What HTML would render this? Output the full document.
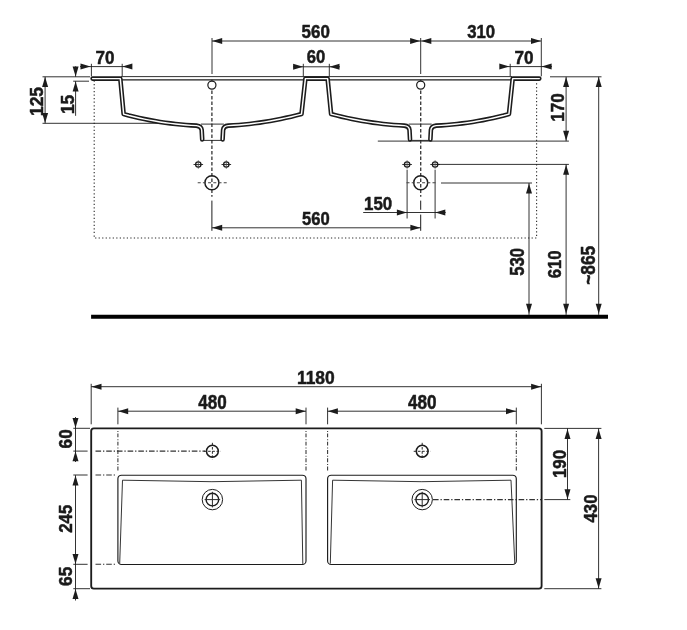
<!DOCTYPE html>
<html>
<head>
<meta charset="utf-8">
<title>Double washbasin dimension drawing</title>
<style>
html,body{margin:0;padding:0;background:#ffffff;}
body{width:687px;height:630px;overflow:hidden;font-family:"Liberation Sans",sans-serif;}
svg{display:block;opacity:0.999;will-change:transform;}
svg text{font-family:"Liberation Sans",sans-serif;font-weight:bold;fill:#1a1a1a;stroke:#1a1a1a;stroke-width:0.5px;stroke-linejoin:round;}
</style>
</head>
<body>
<svg width="687" height="630" viewBox="0 0 687 630">
<rect x="0" y="0" width="687" height="630" fill="#ffffff"/>
<path d="M94.2 80.5 V238 H536.6 V80.5" fill="none" stroke="#2a2a2a" stroke-width="1.1" stroke-dasharray="1.25 2.27"/>
<line x1="42.5" y1="76.8" x2="90" y2="76.8" stroke="#1c1c1c" stroke-width="0.9"/>
<line x1="42.5" y1="123.3" x2="160" y2="123.3" stroke="#1c1c1c" stroke-width="0.9"/>
<line x1="73.2" y1="81.2" x2="89" y2="81.2" stroke="#1c1c1c" stroke-width="0.9"/>
<line x1="121" y1="76.6" x2="512" y2="76.6" stroke="#1c1c1c" stroke-width="0.9"/>
<line x1="122" y1="79.9" x2="304" y2="79.9" stroke="#1c1c1c" stroke-width="1.1"/>
<line x1="329" y1="79.9" x2="511" y2="79.9" stroke="#1c1c1c" stroke-width="1.1"/>
<line x1="212" y1="41" x2="541" y2="41" stroke="#1c1c1c" stroke-width="0.9"/>
<line x1="212" y1="38" x2="212" y2="74" stroke="#1c1c1c" stroke-width="0.9"/>
<line x1="420.7" y1="38" x2="420.7" y2="74" stroke="#1c1c1c" stroke-width="0.9"/>
<line x1="541.3" y1="38" x2="541.3" y2="76.3" stroke="#1c1c1c" stroke-width="0.9"/>
<polygon points="212.2,41 222.2,38 222.2,44" fill="#1c1c1c"/>
<polygon points="420.1,41 410.1,38 410.1,44" fill="#1c1c1c"/>
<polygon points="421.3,41 431.3,38 431.3,44" fill="#1c1c1c"/>
<polygon points="541,41 531,38 531,44" fill="#1c1c1c"/>
<text transform="translate(301.62 37.87) scale(0.9392 1)" font-size="18.08">560</text>
<text transform="translate(467.17 37.87) scale(0.9242 1)" font-size="18.08">310</text>
<line x1="91.4" y1="63.8" x2="91.4" y2="76.3" stroke="#1c1c1c" stroke-width="0.9"/>
<line x1="122.2" y1="63.8" x2="122.2" y2="76.3" stroke="#1c1c1c" stroke-width="0.9"/>
<line x1="80" y1="66.6" x2="132" y2="66.6" stroke="#1c1c1c" stroke-width="0.9"/>
<polygon points="90.5,66.6 80.5,63.6 80.5,69.6" fill="#1c1c1c"/>
<polygon points="122.4,66.6 132.4,63.6 132.4,69.6" fill="#1c1c1c"/>
<text transform="translate(95.52 63.77) scale(0.9490 1)" font-size="17.94">70</text>
<line x1="303.3" y1="63.8" x2="303.3" y2="76.3" stroke="#1c1c1c" stroke-width="0.9"/>
<line x1="329.3" y1="63.8" x2="329.3" y2="76.3" stroke="#1c1c1c" stroke-width="0.9"/>
<line x1="293" y1="66.8" x2="340" y2="66.8" stroke="#1c1c1c" stroke-width="0.9"/>
<polygon points="303.1,66.8 293.1,63.8 293.1,69.8" fill="#1c1c1c"/>
<polygon points="329.5,66.8 339.5,63.8 339.5,69.8" fill="#1c1c1c"/>
<text transform="translate(306.73 63.37) scale(0.9347 1)" font-size="17.8">60</text>
<line x1="510.2" y1="63.8" x2="510.2" y2="76.3" stroke="#1c1c1c" stroke-width="0.9"/>
<line x1="500" y1="66.6" x2="552" y2="66.6" stroke="#1c1c1c" stroke-width="0.9"/>
<polygon points="509.3,66.6 499.3,63.6 499.3,69.6" fill="#1c1c1c"/>
<polygon points="541.6,66.6 551.6,63.6 551.6,69.6" fill="#1c1c1c"/>
<text transform="translate(514.61 63.77) scale(0.9544 1)" font-size="17.94">70</text>
<line x1="45.1" y1="76.8" x2="45.1" y2="123.3" stroke="#1c1c1c" stroke-width="0.9"/>
<polygon points="45.1,77 42.1,87 48.1,87" fill="#1c1c1c"/>
<polygon points="45.1,123.1 42.1,113.1 48.1,113.1" fill="#1c1c1c"/>
<text transform="translate(42.96 116.05) rotate(-90) scale(0.9145 1)" font-size="19.07">125</text>
<line x1="75.6" y1="66.3" x2="75.6" y2="76.8" stroke="#1c1c1c" stroke-width="0.9"/>
<line x1="75.6" y1="81.2" x2="75.6" y2="115.8" stroke="#1c1c1c" stroke-width="0.9"/>
<polygon points="75.6,76.6 72.6,66.6 78.6,66.6" fill="#1c1c1c"/>
<polygon points="75.6,81.6 72.6,91.6 78.6,91.6" fill="#1c1c1c"/>
<text transform="translate(73.77 114.04) rotate(-90) scale(0.9664 1)" font-size="17.94">15</text>
<line x1="550" y1="76.8" x2="601.5" y2="76.8" stroke="#1c1c1c" stroke-width="0.9"/>
<line x1="377.8" y1="141.1" x2="568.9" y2="141.1" stroke="#1c1c1c" stroke-width="0.9"/>
<line x1="436.6" y1="164.4" x2="568.9" y2="164.4" stroke="#1c1c1c" stroke-width="0.9"/>
<line x1="441" y1="183" x2="532" y2="183" stroke="#1c1c1c" stroke-width="0.9"/>
<line x1="566.1" y1="76.8" x2="566.1" y2="141.1" stroke="#1c1c1c" stroke-width="0.9"/>
<polygon points="566.1,77.1 563.1,87.1 569.1,87.1" fill="#1c1c1c"/>
<polygon points="566.1,140.7 563.1,130.7 569.1,130.7" fill="#1c1c1c"/>
<text transform="translate(564.16 121.63) rotate(-90) scale(0.9157 1)" font-size="18.64">170</text>
<line x1="566.1" y1="164.4" x2="566.1" y2="314.9" stroke="#1c1c1c" stroke-width="0.9"/>
<polygon points="566.1,164.8 563.1,174.8 569.1,174.8" fill="#1c1c1c"/>
<polygon points="566.1,313.8 563.1,303.8 569.1,303.8" fill="#1c1c1c"/>
<text transform="translate(561.46 278.37) rotate(-90) scale(0.8742 1)" font-size="19.21">610</text>
<line x1="529" y1="183" x2="529" y2="314.9" stroke="#1c1c1c" stroke-width="0.9"/>
<polygon points="529,183.4 526,193.4 532,193.4" fill="#1c1c1c"/>
<polygon points="529,313.8 526,303.8 532,303.8" fill="#1c1c1c"/>
<text transform="translate(524.46 275.87) rotate(-90) scale(0.8646 1)" font-size="19.35">530</text>
<line x1="598.7" y1="76.8" x2="598.7" y2="314.9" stroke="#1c1c1c" stroke-width="0.9"/>
<polygon points="598.7,77.1 595.7,87.1 601.7,87.1" fill="#1c1c1c"/>
<polygon points="598.7,313.8 595.7,303.8 601.7,303.8" fill="#1c1c1c"/>
<text transform="translate(594.85 284.84) rotate(-90) scale(0.8839 1)" font-size="19.63">~865</text>
<line x1="407.1" y1="169.7" x2="407.1" y2="218.5" stroke="#1c1c1c" stroke-width="0.9"/>
<line x1="435.1" y1="169.7" x2="435.1" y2="218.5" stroke="#1c1c1c" stroke-width="0.9"/>
<line x1="363.2" y1="212.5" x2="445.7" y2="212.5" stroke="#1c1c1c" stroke-width="0.9"/>
<polygon points="406.9,212.5 396.9,209.5 396.9,215.5" fill="#1c1c1c"/>
<polygon points="435.3,212.5 445.3,209.5 445.3,215.5" fill="#1c1c1c"/>
<text transform="translate(363.99 209.57) scale(0.9337 1)" font-size="18.08">150</text>
<line x1="211.9" y1="200.6" x2="211.9" y2="230.8" stroke="#1c1c1c" stroke-width="1"/>
<line x1="420.7" y1="200.6" x2="420.7" y2="209.8" stroke="#1c1c1c" stroke-width="1"/>
<line x1="420.7" y1="214.6" x2="420.7" y2="230.8" stroke="#1c1c1c" stroke-width="1"/>
<line x1="211.9" y1="227.8" x2="420.7" y2="227.8" stroke="#1c1c1c" stroke-width="0.9"/>
<polygon points="212.2,227.8 222.2,224.8 222.2,230.8" fill="#1c1c1c"/>
<polygon points="420.4,227.8 410.4,224.8 410.4,230.8" fill="#1c1c1c"/>
<text transform="translate(301.94 225.47) scale(0.9113 1)" font-size="18.22">560</text>
<line x1="91.1" y1="316.8" x2="608" y2="316.8" stroke="#000" stroke-width="4"/>
<line x1="211.9" y1="79.6" x2="211.9" y2="196.8" stroke="#3c3c3c" stroke-width="1.35" stroke-dasharray="3.4 2.1"/>
<circle cx="211.9" cy="85.1" r="4.05" fill="#fff" stroke="#1c1c1c" stroke-width="1.2"/>
<circle cx="211.9" cy="182.8" r="7" fill="none" stroke="#1c1c1c" stroke-width="1.45"/>
<line x1="197.7" y1="182.8" x2="226.7" y2="182.8" stroke="#444" stroke-width="1.1" stroke-dasharray="3 2.2"/>
<circle cx="198.3" cy="164.5" r="2.7" fill="none" stroke="#1c1c1c" stroke-width="1.25"/>
<line x1="193.5" y1="164.5" x2="203.1" y2="164.5" stroke="#1c1c1c" stroke-width="0.9"/>
<line x1="198.3" y1="160.3" x2="198.3" y2="168.7" stroke="#444" stroke-width="0.8"/>
<circle cx="226.3" cy="164.5" r="2.7" fill="none" stroke="#1c1c1c" stroke-width="1.25"/>
<line x1="221.5" y1="164.5" x2="231.1" y2="164.5" stroke="#1c1c1c" stroke-width="0.9"/>
<line x1="226.3" y1="160.3" x2="226.3" y2="168.7" stroke="#444" stroke-width="0.8"/>
<line x1="420.7" y1="79.6" x2="420.7" y2="196.8" stroke="#3c3c3c" stroke-width="1.35" stroke-dasharray="3.4 2.1"/>
<circle cx="420.7" cy="85.1" r="4.05" fill="#fff" stroke="#1c1c1c" stroke-width="1.2"/>
<circle cx="420.7" cy="182.8" r="7" fill="none" stroke="#1c1c1c" stroke-width="1.45"/>
<line x1="406.5" y1="182.8" x2="435.5" y2="182.8" stroke="#444" stroke-width="1.1" stroke-dasharray="3 2.2"/>
<circle cx="407.1" cy="164.5" r="2.7" fill="none" stroke="#1c1c1c" stroke-width="1.25"/>
<line x1="402.3" y1="164.5" x2="411.9" y2="164.5" stroke="#1c1c1c" stroke-width="0.9"/>
<line x1="407.1" y1="160.3" x2="407.1" y2="168.7" stroke="#444" stroke-width="0.8"/>
<circle cx="435.1" cy="164.5" r="2.7" fill="none" stroke="#1c1c1c" stroke-width="1.25"/>
<line x1="430.3" y1="164.5" x2="439.9" y2="164.5" stroke="#1c1c1c" stroke-width="0.9"/>
<line x1="435.1" y1="160.3" x2="435.1" y2="168.7" stroke="#444" stroke-width="0.8"/>
<path d="M92.6 78.6 L120.3 78.6 L123.65 114.1 L128.85 115.55 L134.04 116.82 L139.24 118 L144.44 119.1 L149.63 120.13 L154.83 121.07 L160.03 121.92 L165.22 122.7 L170.42 123.39 L175.61 124.01 L180.81 124.54 L186.01 124.98 L191.2 125.35 L196.4 125.64 Q201.3 126.3 201.7 130 L202.2 139.4 " fill="none" stroke="#1c1c1c" stroke-width="4.6" stroke-linecap="round" stroke-linejoin="round"/>
<path d="M92.6 78.6 L120.3 78.6 L123.65 114.1 L128.85 115.55 L134.04 116.82 L139.24 118 L144.44 119.1 L149.63 120.13 L154.83 121.07 L160.03 121.92 L165.22 122.7 L170.42 123.39 L175.61 124.01 L180.81 124.54 L186.01 124.98 L191.2 125.35 L196.4 125.64 Q201.3 126.3 201.7 130 L202.2 139.4 " fill="none" stroke="#ffffff" stroke-width="1.45" stroke-linecap="round" stroke-linejoin="round"/>
<path d="M222.6 139.4 L223.1 130 Q223.5 126 228.4 125.62 L233.62 125.33 L238.84 124.96 L244.06 124.5 L249.29 123.96 L254.51 123.34 L259.73 122.64 L264.95 121.85 L270.17 120.98 L275.39 120.03 L280.61 118.99 L285.84 117.87 L291.06 116.67 L296.28 115.39 L301.5 114.1 L305.4 78.6 L327.6 78.6 L331.1 114.1 L336.32 115.39 L341.54 116.67 L346.76 117.87 L351.99 118.99 L357.21 120.03 L362.43 120.98 L367.65 121.85 L372.87 122.64 L378.09 123.34 L383.31 123.96 L388.54 124.5 L393.76 124.96 L398.98 125.33 L404.2 125.62 Q409.1 126 409.5 130 L410 139.4 " fill="none" stroke="#1c1c1c" stroke-width="4.6" stroke-linecap="round" stroke-linejoin="round"/>
<path d="M222.6 139.4 L223.1 130 Q223.5 126 228.4 125.62 L233.62 125.33 L238.84 124.96 L244.06 124.5 L249.29 123.96 L254.51 123.34 L259.73 122.64 L264.95 121.85 L270.17 120.98 L275.39 120.03 L280.61 118.99 L285.84 117.87 L291.06 116.67 L296.28 115.39 L301.5 114.1 L305.4 78.6 L327.6 78.6 L331.1 114.1 L336.32 115.39 L341.54 116.67 L346.76 117.87 L351.99 118.99 L357.21 120.03 L362.43 120.98 L367.65 121.85 L372.87 122.64 L378.09 123.34 L383.31 123.96 L388.54 124.5 L393.76 124.96 L398.98 125.33 L404.2 125.62 Q409.1 126 409.5 130 L410 139.4 " fill="none" stroke="#ffffff" stroke-width="1.45" stroke-linecap="round" stroke-linejoin="round"/>
<path d="M430.4 139.4 L430.9 130 Q431.3 126.3 436.2 125.64 L441.4 125.35 L446.59 124.98 L451.79 124.54 L456.99 124.01 L462.18 123.39 L467.38 122.7 L472.57 121.92 L477.77 121.07 L482.97 120.13 L488.16 119.1 L493.36 118 L498.56 116.82 L503.75 115.55 L508.95 114.1 L512.7 78.6 L539.3 78.6" fill="none" stroke="#1c1c1c" stroke-width="4.6" stroke-linecap="round" stroke-linejoin="round"/>
<path d="M430.4 139.4 L430.9 130 Q431.3 126.3 436.2 125.64 L441.4 125.35 L446.59 124.98 L451.79 124.54 L456.99 124.01 L462.18 123.39 L467.38 122.7 L472.57 121.92 L477.77 121.07 L482.97 120.13 L488.16 119.1 L493.36 118 L498.56 116.82 L503.75 115.55 L508.95 114.1 L512.7 78.6 L539.3 78.6" fill="none" stroke="#ffffff" stroke-width="1.45" stroke-linecap="round" stroke-linejoin="round"/>
<line x1="200.9" y1="124.1" x2="223.9" y2="124.1" stroke="#1c1c1c" stroke-width="0.9"/>
<line x1="203.4" y1="140.4" x2="221.4" y2="140.4" stroke="#1c1c1c" stroke-width="0.9"/>
<line x1="408.7" y1="124.1" x2="431.7" y2="124.1" stroke="#1c1c1c" stroke-width="0.9"/>
<line x1="411.2" y1="140.4" x2="429.2" y2="140.4" stroke="#1c1c1c" stroke-width="0.9"/>
<line x1="91.2" y1="383.8" x2="91.2" y2="424.3" stroke="#1c1c1c" stroke-width="0.9"/>
<line x1="541.4" y1="383.8" x2="541.4" y2="424.3" stroke="#1c1c1c" stroke-width="0.9"/>
<line x1="91.2" y1="386.7" x2="541.6" y2="386.7" stroke="#1c1c1c" stroke-width="0.9"/>
<polygon points="91.5,386.7 101.5,383.7 101.5,389.7" fill="#1c1c1c"/>
<polygon points="541.1,386.7 531.1,383.7 531.1,389.7" fill="#1c1c1c"/>
<text transform="translate(296.95 384.36) scale(0.9422 1)" font-size="18.5">1180</text>
<line x1="117.9" y1="407.6" x2="117.9" y2="424.3" stroke="#1c1c1c" stroke-width="0.9"/>
<line x1="306" y1="407.6" x2="306" y2="424.3" stroke="#1c1c1c" stroke-width="0.9"/>
<line x1="117.9" y1="430.9" x2="117.9" y2="471.6" stroke="#333" stroke-width="1.05" stroke-dasharray="1 1.5 3.9 1.9"/>
<line x1="306" y1="430.9" x2="306" y2="471.6" stroke="#333" stroke-width="1.05" stroke-dasharray="1 1.5 3.9 1.9"/>
<line x1="117.9" y1="411.2" x2="306" y2="411.2" stroke="#1c1c1c" stroke-width="0.9"/>
<polygon points="118.2,411.2 128.2,408.2 128.2,414.2" fill="#1c1c1c"/>
<polygon points="305.7,411.2 295.7,408.2 295.7,414.2" fill="#1c1c1c"/>
<text transform="translate(198.19 408.76) scale(0.8752 1)" font-size="19.49">480</text>
<line x1="327.6" y1="407.6" x2="327.6" y2="424.3" stroke="#1c1c1c" stroke-width="0.9"/>
<line x1="516.3" y1="407.6" x2="516.3" y2="424.3" stroke="#1c1c1c" stroke-width="0.9"/>
<line x1="327.6" y1="430.9" x2="327.6" y2="471.6" stroke="#333" stroke-width="1.05" stroke-dasharray="1 1.5 3.9 1.9"/>
<line x1="516.3" y1="430.9" x2="516.3" y2="471.6" stroke="#333" stroke-width="1.05" stroke-dasharray="1 1.5 3.9 1.9"/>
<line x1="327.6" y1="411.2" x2="516.3" y2="411.2" stroke="#1c1c1c" stroke-width="0.9"/>
<polygon points="327.9,411.2 337.9,408.2 337.9,414.2" fill="#1c1c1c"/>
<polygon points="516,411.2 506,408.2 506,414.2" fill="#1c1c1c"/>
<text transform="translate(407.89 408.76) scale(0.8784 1)" font-size="19.49">480</text>
<line x1="73.3" y1="428.3" x2="90" y2="428.3" stroke="#1c1c1c" stroke-width="0.9"/>
<line x1="73.3" y1="451.1" x2="87.6" y2="451.1" stroke="#1c1c1c" stroke-width="0.9"/>
<line x1="73.3" y1="475" x2="87.6" y2="475" stroke="#1c1c1c" stroke-width="0.9"/>
<line x1="73.3" y1="564.3" x2="87.6" y2="564.3" stroke="#1c1c1c" stroke-width="0.9"/>
<line x1="73.3" y1="588.7" x2="90" y2="588.7" stroke="#1c1c1c" stroke-width="0.9"/>
<line x1="95.5" y1="451.1" x2="205" y2="451.1" stroke="#333" stroke-width="1.05" stroke-dasharray="5.6 1.9 1.3 1.9"/>
<line x1="95.5" y1="475" x2="116" y2="475" stroke="#333" stroke-width="1.05" stroke-dasharray="5.6 1.9 1.3 1.9"/>
<line x1="95.5" y1="564.3" x2="116" y2="564.3" stroke="#333" stroke-width="1.05" stroke-dasharray="5.6 1.9 1.3 1.9"/>
<line x1="75.5" y1="417" x2="75.5" y2="462" stroke="#1c1c1c" stroke-width="0.9"/>
<polygon points="75.5,428.1 72.5,418.1 78.5,418.1" fill="#1c1c1c"/>
<polygon points="75.5,451.3 72.5,461.3 78.5,461.3" fill="#1c1c1c"/>
<text transform="translate(72.27 448.38) rotate(-90) scale(0.9696 1)" font-size="17.66">60</text>
<line x1="75.5" y1="475.2" x2="75.5" y2="588.7" stroke="#1c1c1c" stroke-width="0.9"/>
<polygon points="75.5,475.4 72.5,485.4 78.5,485.4" fill="#1c1c1c"/>
<polygon points="75.5,564.1 72.5,554.1 78.5,554.1" fill="#1c1c1c"/>
<text transform="translate(72.27 532.74) rotate(-90) scale(0.9493 1)" font-size="17.66">245</text>
<line x1="75.5" y1="588.7" x2="75.5" y2="600.5" stroke="#1c1c1c" stroke-width="0.9"/>
<polygon points="75.5,588.9 72.5,598.9 78.5,598.9" fill="#1c1c1c"/>
<text transform="translate(72.27 585.89) rotate(-90) scale(0.9738 1)" font-size="17.66">65</text>
<line x1="544.3" y1="428.4" x2="601.4" y2="428.4" stroke="#1c1c1c" stroke-width="0.9"/>
<line x1="544.3" y1="588.7" x2="601.4" y2="588.7" stroke="#1c1c1c" stroke-width="0.9"/>
<line x1="544.3" y1="499.6" x2="570.3" y2="499.6" stroke="#1c1c1c" stroke-width="0.9"/>
<line x1="433" y1="499.6" x2="541" y2="499.6" stroke="#333" stroke-width="1.05" stroke-dasharray="5.6 1.9 1.3 1.9"/>
<line x1="567.5" y1="428.3" x2="567.5" y2="499.6" stroke="#1c1c1c" stroke-width="0.9"/>
<polygon points="567.5,428.9 564.5,438.9 570.5,438.9" fill="#1c1c1c"/>
<polygon points="567.5,499.2 564.5,489.2 570.5,489.2" fill="#1c1c1c"/>
<text transform="translate(565.86 478.11) rotate(-90) scale(0.8986 1)" font-size="18.79">190</text>
<line x1="598.6" y1="428.3" x2="598.6" y2="588.7" stroke="#1c1c1c" stroke-width="0.9"/>
<polygon points="598.6,428.9 595.6,438.9 601.6,438.9" fill="#1c1c1c"/>
<polygon points="598.6,588.3 595.6,578.3 601.6,578.3" fill="#1c1c1c"/>
<text transform="translate(596.57 522.4) rotate(-90) scale(0.9230 1)" font-size="18.08">430</text>
<rect x="91.2" y="428.3" width="450.4" height="160.4" rx="2.6" fill="none" stroke="#1c1c1c" stroke-width="1.85"/>
<rect x="117.9" y="475.2" width="188.1" height="89.3" rx="3.6" fill="none" stroke="#1c1c1c" stroke-width="1.15"/>
<path d="M119.7 563.6 L122.5 480.2 Q211.95 483.2 301.4 480.2 L302.8 563.9" fill="none" stroke="#2a2a2a" stroke-width="0.95" stroke-linejoin="round"/>
<rect x="327.6" y="475.2" width="188.7" height="89.3" rx="3.6" fill="none" stroke="#1c1c1c" stroke-width="1.15"/>
<path d="M330.3 563.6 L332.6 480.2 Q421.95 483.2 511 480.2 L514.8 563.9" fill="none" stroke="#2a2a2a" stroke-width="0.95" stroke-linejoin="round"/>
<circle cx="212.4" cy="451.2" r="5.9" fill="none" stroke="#1c1c1c" stroke-width="1.55"/>
<line x1="203.9" y1="451.3" x2="220.9" y2="451.3" stroke="#2a2a2a" stroke-width="1" stroke-dasharray="2.6 1.6"/>
<line x1="212.4" y1="442.8" x2="212.4" y2="459.8" stroke="#2a2a2a" stroke-width="1" stroke-dasharray="2.6 1.6"/>
<circle cx="212.4" cy="499.6" r="10.2" fill="none" stroke="#1c1c1c" stroke-width="1"/>
<circle cx="212.4" cy="499.6" r="6.3" fill="none" stroke="#1c1c1c" stroke-width="1.4"/>
<line x1="204.6" y1="499.6" x2="220.2" y2="499.6" stroke="#2a2a2a" stroke-width="1"/>
<line x1="212.4" y1="491.8" x2="212.4" y2="507.4" stroke="#2a2a2a" stroke-width="1"/>
<circle cx="422.2" cy="451.2" r="5.9" fill="none" stroke="#1c1c1c" stroke-width="1.55"/>
<line x1="413.7" y1="451.3" x2="430.7" y2="451.3" stroke="#2a2a2a" stroke-width="1" stroke-dasharray="2.6 1.6"/>
<line x1="422.2" y1="442.8" x2="422.2" y2="459.8" stroke="#2a2a2a" stroke-width="1" stroke-dasharray="2.6 1.6"/>
<circle cx="422.2" cy="499.6" r="10.2" fill="none" stroke="#1c1c1c" stroke-width="1"/>
<circle cx="422.2" cy="499.6" r="6.3" fill="none" stroke="#1c1c1c" stroke-width="1.4"/>
<line x1="414.4" y1="499.6" x2="430" y2="499.6" stroke="#2a2a2a" stroke-width="1"/>
<line x1="422.2" y1="491.8" x2="422.2" y2="507.4" stroke="#2a2a2a" stroke-width="1"/>
</svg>
</body>
</html>
